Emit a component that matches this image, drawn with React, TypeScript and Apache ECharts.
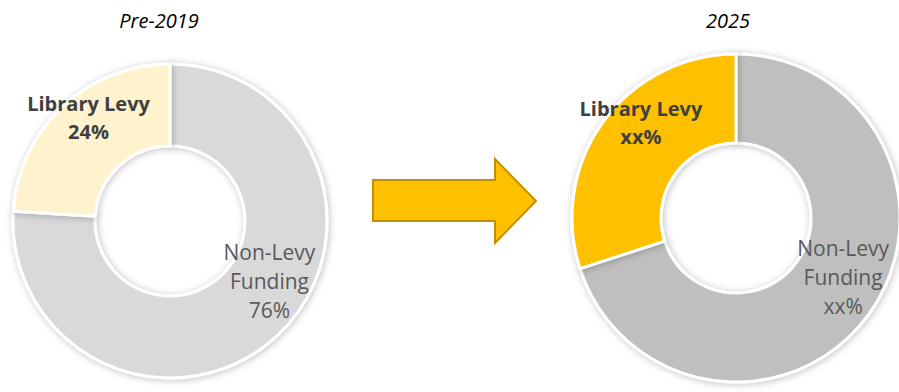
import React, { useEffect, useRef } from "react";
import * as echarts from "echarts";

// Funding mix before 2019 and in 2025
const categories = ["Non-Levy Funding", "Library Levy"];
const labelNames = ["Non-Levy\nFunding", "Library Levy"];
const pre2019Values = [76, 24];
const values2025 = [70, 30];
const pre2019Text = ["76%", "24%"];
const text2025 = ["xx%", "xx%"];
const panelTitles = ["Pre-2019", "2025"];

const pre2019Colors = ["#D9D9D9", "#FFF2CC"];
const colors2025 = ["#BFBFBF", "#FFC000"];

// label nudges (dx, dy) away from the default inside position, per slice
const nudgePre2019 = [
  [18, -27],
  [0, -17],
];
const nudge2025 = [
  [8, -13],
  [4, -23],
];

const FONT = "'Open Sans', 'Noto Sans', sans-serif";

function makePie(
  name: string,
  values: number[],
  texts: string[],
  colors: string[],
  nudge: number[][],
  center: [number, number],
  radius: [number, number]
) {
  return {
    type: "pie",
    name,
    center,
    radius,
    startAngle: 90,
    clockwise: true,
    silent: true,
    label: {
      show: true,
      position: "inside",
      fontFamily: FONT,
      align: "center",
    },
    labelLine: { show: false },
    labelLayout: (params: any) => {
      const n = nudge[params.dataIndex] ?? [0, 0];
      return { dx: n[0], dy: n[1] };
    },
    itemStyle: {
      borderColor: "#FFFFFF",
      borderWidth: 3,
      shadowBlur: 7,
      shadowColor: "rgba(0,0,0,0.25)",
      shadowOffsetX: 1,
      shadowOffsetY: 1,
    },
    data: values.map((v, i) => ({
      name: categories[i],
      value: v,
      itemStyle: { color: colors[i] },
      label: {
        formatter: `${labelNames[i]}\n${texts[i]}`,
        fontWeight: i === 1 ? "bold" : "normal",
        fontSize: i === 1 ? 20 : 21,
        lineHeight: i === 1 ? 28 : 29,
        color: i === 1 ? "#404040" : "#595959",
      },
    })),
  };
}

const titleStyle = {
  fontFamily: FONT,
  fontStyle: "italic",
  fontWeight: "normal",
  fontSize: 20,
  color: "#000000",
};

export default function App() {
  const ref = useRef<HTMLDivElement>(null);

  useEffect(() => {
    if (!ref.current) return;
    const chart = echarts.init(ref.current, null, { renderer: "svg" });
    chart.setOption({
      animation: false,
      backgroundColor: "#FFFFFF",
      title: [
        {
          text: panelTitles[0],
          left: 154,
          top: 5,
          textAlign: "center",
          textStyle: titleStyle,
        },
        {
          text: panelTitles[1],
          left: 723,
          top: 5,
          textAlign: "center",
          textStyle: titleStyle,
        },
      ],
      series: [
        makePie("Pre-2019", pre2019Values, pre2019Text, pre2019Colors, nudgePre2019, [170, 221], [75, 157]),
        makePie("2025", values2025, text2025, colors2025, nudge2025, [736, 218], [75, 164]),
      ],
      graphic: [
        {
          type: "polygon",
          shape: {
            points: [
              [373, 180],
              [495, 180],
              [495, 159],
              [536, 201],
              [495, 243],
              [495, 221],
              [373, 221],
            ],
          },
          style: { fill: "#FFC000", stroke: "#BF9000", lineWidth: 2 },
        },
      ],
    });
    return () => chart.dispose();
  }, []);

  return (
    <div
      ref={ref}
      style={{ position: "fixed", left: 0, top: 0, width: 899, height: 392 }}
    />
  );
}
